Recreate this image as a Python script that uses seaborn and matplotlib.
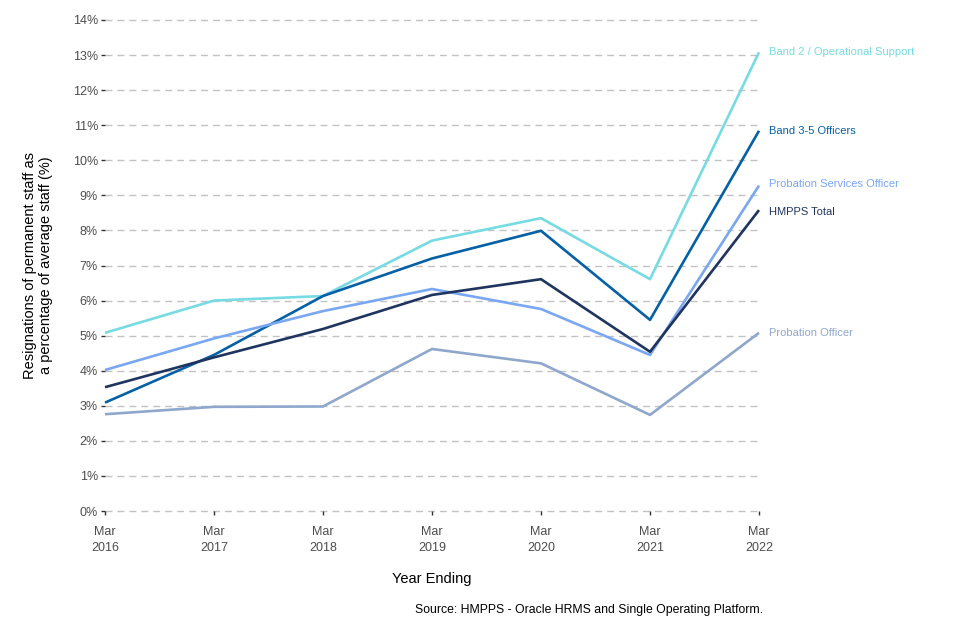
import matplotlib
matplotlib.use("Agg")
import matplotlib.pyplot as plt
import seaborn as sns
import pandas as pd
from matplotlib.ticker import FuncFormatter

years = [2016, 2017, 2018, 2019, 2020, 2021, 2022]
year_labels = ["Mar\n2016", "Mar\n2017", "Mar\n2018", "Mar\n2019", "Mar\n2020", "Mar\n2021", "Mar\n2022"]

band2 = [5.08, 6.00, 6.13, 7.71, 8.35, 6.61, 13.08]
band35 = [3.09, 4.45, 6.13, 7.20, 7.99, 5.45, 10.84]
pso = [4.02, 4.92, 5.70, 6.33, 5.76, 4.45, 9.28]
hmpps = [3.53, 4.38, 5.19, 6.16, 6.61, 4.54, 8.58]
po = [2.76, 2.97, 2.98, 4.62, 4.21, 2.74, 5.08]

series_names = ["Band 2 / Operational Support", "Band 3-5 Officers",
                "Probation Services Officer", "HMPPS Total", "Probation Officer"]
series_values = [band2, band35, pso, hmpps, po]
colors = ["#76dbe2", "#0560a6", "#79a7f2", "#1f355f", "#8fa7cc"]

rows = []
for name, vals in zip(series_names, series_values):
    for y, v in zip(years, vals):
        rows.append({"year": y, "value": v, "series": name})
df = pd.DataFrame(rows)

sns.set_theme(style="white")
plt.rcParams["font.family"] = ["Liberation Sans", "DejaVu Sans"]

fig = plt.figure(figsize=(9.6, 6.4), dpi=100)
ax = fig.add_axes([105 / 960, 1 - 511 / 640, (759 - 105) / 960, (511 - 20) / 640])

# gridlines
for v in range(0, 15):
    ax.axhline(v, color="#c2c2c2", lw=1.0, dashes=(5, 3.6), zorder=0)

sns.lineplot(data=df, x="year", y="value", hue="series", hue_order=series_names,
             palette=dict(zip(series_names, colors)), linewidth=1.9, ax=ax,
             legend=False, clip_on=False, zorder=3)
for line in ax.lines:
    line.set_clip_on(False)
    line.set_solid_capstyle("butt")

label_y = {"Band 2 / Operational Support": band2[-1],
           "Band 3-5 Officers": band35[-1],
           "Probation Services Officer": pso[-1] + 0.05,
           "HMPPS Total": hmpps[-1] - 0.05,
           "Probation Officer": po[-1]}
for name, c in zip(series_names, colors):
    ax.annotate(name, xy=(years[-1], label_y[name]), xytext=(7, 0),
                textcoords="offset points", color=c, fontsize=8, va="center", ha="left",
                annotation_clip=False)

ax.set_xlim(2016, 2022)
ax.set_ylim(0, 14)
ax.set_xticks(years)
ax.set_xticklabels(year_labels, linespacing=1.45)
ax.set_yticks(range(0, 15))
ax.yaxis.set_major_formatter(FuncFormatter(lambda v, p: f"{int(v)}%"))
for s in ax.spines.values():
    s.set_visible(False)
ax.tick_params(axis="both", which="major", length=3, width=1, color="#333333",
               labelcolor="#4d4d4d", labelsize=9, pad=2, left=True, bottom=True)
ax.tick_params(axis="x", pad=8)

ax.set_xlabel("Year Ending", fontsize=10.5, color="black", labelpad=12.5)
ax.set_ylabel("Resignations of permanent staff as\na percentage of average staff (%)",
              fontsize=10.5, color="black", labelpad=14)

fig.text(589 / 960, 1 - 610 / 640, "Source: HMPPS - Oracle HRMS and Single Operating Platform.",
         ha="center", va="center", fontsize=8.8, color="black")

fig.savefig("out.png", dpi=100)
